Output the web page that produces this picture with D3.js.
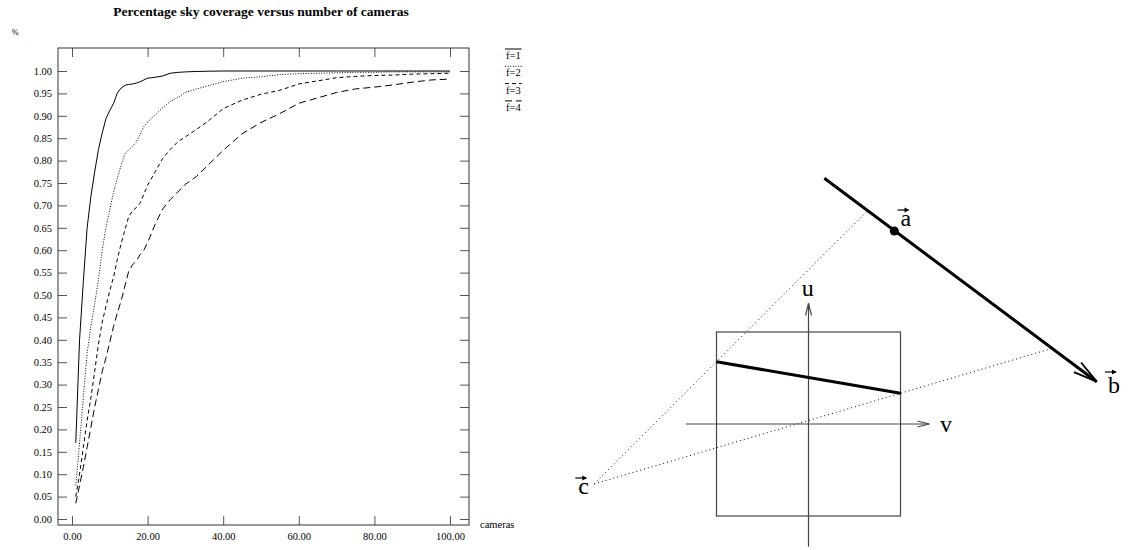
<!DOCTYPE html>
<html>
<head>
<meta charset="utf-8">
<script src="https://cdn.jsdelivr.net/npm/d3@7"></script>
<style>
  html, body { margin: 0; padding: 0; background: #fff; }
  svg { display: block; font-family: "Liberation Serif", "Times New Roman", serif; }
</style>
</head>
<body>
<svg id="fig" width="1130" height="550"></svg>
<script>
// ---- coverage data: fraction of sky covered for a given number of cameras ----
const cameras = [1, 2, 3, 4, 5, 6, 7, 8, 9, 10, 11, 12, 13, 14, 15, 16, 17, 18, 19, 20,
                 22, 24, 26, 28, 30, 33, 36, 40, 45, 50, 55, 60, 65, 70, 75, 80, 85, 90, 95, 100];
const coverF1 = [0.17, 0.40, 0.53, 0.65, 0.72, 0.775, 0.825, 0.862, 0.894, 0.912, 0.928, 0.951, 0.962, 0.968, 0.970, 0.971, 0.973, 0.976, 0.980, 0.984,
                 0.986, 0.989, 0.995, 0.997, 0.998, 0.999, 0.9995, 1.0, 1.0, 1.0, 1.0, 1.0, 1.0, 1.0, 1.0, 1.0, 1.0, 1.0, 1.0, 1.0];
const coverF2 = [0.075, 0.17, 0.27, 0.37, 0.43, 0.48, 0.535, 0.60, 0.652, 0.69, 0.73, 0.76, 0.79, 0.815, 0.824, 0.832, 0.841, 0.858, 0.876, 0.886,
                 0.902, 0.918, 0.932, 0.941, 0.952, 0.960, 0.967, 0.976, 0.984, 0.987, 0.992, 0.994, 0.995, 0.996, 0.997, 0.997, 0.998, 0.998, 0.998, 0.998];
const coverF3 = [0.05, 0.10, 0.16, 0.22, 0.27, 0.33, 0.39, 0.44, 0.475, 0.51, 0.54, 0.58, 0.615, 0.645, 0.675, 0.688, 0.695, 0.705, 0.725, 0.745,
                 0.775, 0.805, 0.825, 0.842, 0.853, 0.870, 0.888, 0.916, 0.935, 0.948, 0.957, 0.971, 0.978, 0.985, 0.988, 0.990, 0.991, 0.993, 0.994, 0.995];
const coverF4 = [0.035, 0.075, 0.115, 0.16, 0.205, 0.25, 0.29, 0.33, 0.36, 0.395, 0.43, 0.46, 0.487, 0.52, 0.553, 0.567, 0.576, 0.59, 0.60, 0.617,
                 0.658, 0.692, 0.713, 0.73, 0.747, 0.765, 0.79, 0.823, 0.86, 0.885, 0.905, 0.928, 0.94, 0.952, 0.96, 0.964, 0.969, 0.975, 0.98, 0.982];
const seriesNames = ["f=1", "f=2", "f=3", "f=4"];
const xTicks = [0, 20, 40, 60, 80, 100];
const yTicks = [0.00, 0.05, 0.10, 0.15, 0.20, 0.25, 0.30, 0.35, 0.40, 0.45, 0.50,
                0.55, 0.60, 0.65, 0.70, 0.75, 0.80, 0.85, 0.90, 0.95, 1.00];

// ---- projection sketch, in image-plane units (v to the right, u upwards) ----
const planeCorners = [[-1, -1], [1, 1]];
const centreC = [-2.33, -0.652];
const segmentAB = [[0.172, 2.671], [3.133, 0.46]];
const pointA = [0.933, 2.098];
const projectedAB = [[-1, 0.677], [1, 0.334]];
const uAxisRange = [-1.334, 1.312];
const vAxisRange = [-1.332, 1.313];
const sketchLabels = [
  { text: "a", pos: [1.0, 2.152], vec: true },
  { text: "b", pos: [3.255, 0.337], vec: true, tall: true },
  { text: "c", pos: [-2.502, -0.761], vec: true },
  { text: "u", pos: [-0.074, 1.391], vec: false },
  { text: "v", pos: [1.429, -0.084], vec: false }
];

const svg = d3.select("#fig");

// =================== coverage plot ===================
const frame = { left: 58, right: 469, top: 48, bottom: 525 };
const x = d3.scaleLinear().domain([0, 100]).range([72, 450]);
const y = d3.scaleLinear().domain([0, 1]).range([519, 71]);
const tickLen = 9;
const fmt = d3.format(".2f");

const plot = svg.append("g");

function styleAxis(g) {
  g.attr("font-family", null).attr("font-size", null);
  g.select(".domain").remove();
  g.selectAll(".tick line").attr("stroke", "#555").attr("stroke-width", 1);
  g.selectAll(".tick text").attr("fill", "#000").style("font-size", "10.5px");
}

plot.append("g")
  .attr("transform", `translate(0,${frame.bottom})`)
  .call(d3.axisBottom(x).tickValues(xTicks).tickFormat(fmt)
    .tickSizeInner(-tickLen).tickSizeOuter(0).tickPadding(8))
  .call(styleAxis);

plot.append("g")
  .attr("transform", `translate(0,${frame.top})`)
  .call(d3.axisTop(x).tickValues(xTicks).tickFormat(() => "")
    .tickSizeInner(-tickLen).tickSizeOuter(0))
  .call(styleAxis);

plot.append("g")
  .attr("transform", `translate(${frame.left},0)`)
  .call(d3.axisLeft(y).tickValues(yTicks).tickFormat(fmt)
    .tickSizeInner(-tickLen).tickSizeOuter(0).tickPadding(6))
  .call(styleAxis);

plot.append("g")
  .attr("transform", `translate(${frame.right},0)`)
  .call(d3.axisRight(y).tickValues(yTicks).tickFormat(() => "")
    .tickSizeInner(-tickLen).tickSizeOuter(0))
  .call(styleAxis);

plot.append("rect")
  .attr("x", frame.left).attr("y", frame.top)
  .attr("width", frame.right - frame.left).attr("height", frame.bottom - frame.top)
  .attr("fill", "none").attr("stroke", "#333").attr("stroke-width", 1);

const dashes = [null, "1,1.6", "4,3", "7,4"];
const series = [coverF1, coverF2, coverF3, coverF4];
const line = d3.line().x(d => x(d[0])).y(d => y(d[1]));

series.forEach((vals, i) => {
  plot.append("path")
    .datum(cameras.map((c, k) => [c, vals[k]]))
    .attr("d", line)
    .attr("fill", "none")
    .attr("stroke", "#000")
    .attr("stroke-width", 1)
    .attr("stroke-dasharray", dashes[i]);
});

// legend: line style drawn over each label
const legendX = frame.right + 37;
seriesNames.forEach((name, i) => {
  const by = 59 + i * 17.3;
  const t = plot.append("text")
    .attr("x", legendX).attr("y", by)
    .style("font-size", "10.5px").text(name);
  const w = t.node().getComputedTextLength();
  plot.append("line")
    .attr("x1", legendX - 1).attr("x2", legendX + w + 1)
    .attr("y1", by - 10).attr("y2", by - 10)
    .attr("stroke", "#000").attr("stroke-width", 1)
    .attr("stroke-dasharray", dashes[i]);
});

plot.append("text")
  .attr("x", (x(0) + x(100)) / 2).attr("y", 16)
  .attr("text-anchor", "middle")
  .style("font-size", "13.5px").style("font-weight", "bold")
  .text("Percentage sky coverage versus number of cameras");

plot.append("text").attr("x", 12).attr("y", 35)
  .style("font-size", "8px").text("%");

plot.append("text").attr("x", frame.right + 11).attr("y", 528)
  .style("font-size", "10.5px").text("cameras");

// =================== projection sketch ===================
const sx = d3.scaleLinear().domain([-1, 1]).range([716.5, 900.5]);
const sy = d3.scaleLinear().domain([-1, 1]).range([516, 332]);
const P = p => [sx(p[0]), sy(p[1])];
const sketch = svg.append("g");

// where the ray from c through q meets the line through segment ab
function hitAB(c, q) {
  const [a, b] = segmentAB;
  const d1 = [q[0] - c[0], q[1] - c[1]];
  const d2 = [b[0] - a[0], b[1] - a[1]];
  const den = d1[0] * d2[1] - d1[1] * d2[0];
  const t = ((a[0] - c[0]) * d2[1] - (a[1] - c[1]) * d2[0]) / den;
  return [c[0] + t * d1[0], c[1] + t * d1[1]];
}

projectedAB.forEach(q => {
  const hit = hitAB(centreC, q);
  const [x1, y1] = P(centreC), [x2, y2] = P(hit);
  sketch.append("line")
    .attr("x1", x1).attr("y1", y1).attr("x2", x2).attr("y2", y2)
    .attr("stroke", "#000").attr("stroke-width", 1)
    .attr("stroke-dasharray", "1,3");
});

// image plane
const [c0, c1] = [P(planeCorners[0]), P(planeCorners[1])];
sketch.append("rect")
  .attr("x", Math.min(c0[0], c1[0])).attr("y", Math.min(c0[1], c1[1]))
  .attr("width", Math.abs(c1[0] - c0[0])).attr("height", Math.abs(c1[1] - c0[1]))
  .attr("fill", "none").attr("stroke", "#444").attr("stroke-width", 1.2);

function openHead(g, tip, from, len, half, width, colour) {
  const ang = Math.atan2(tip[1] - from[1], tip[0] - from[0]);
  const bx = tip[0] - len * Math.cos(ang), by = tip[1] - len * Math.sin(ang);
  const nx = -Math.sin(ang) * half, ny = Math.cos(ang) * half;
  g.append("path")
    .attr("d", `M${bx + nx},${by + ny}L${tip[0]},${tip[1]}L${bx - nx},${by - ny}`)
    .attr("fill", "none").attr("stroke", colour).attr("stroke-width", width);
}

// u and v axes
const uBot = P([0, uAxisRange[0]]), uTop = P([0, uAxisRange[1]]);
sketch.append("line").attr("x1", uBot[0]).attr("y1", uBot[1]).attr("x2", uTop[0]).attr("y2", uTop[1])
  .attr("stroke", "#444").attr("stroke-width", 1.2);
openHead(sketch, uTop, uBot, 12, 3, 1.2, "#444");
const vL = P([vAxisRange[0], 0]), vR = P([vAxisRange[1], 0]);
sketch.append("line").attr("x1", vL[0]).attr("y1", vL[1]).attr("x2", vR[0]).attr("y2", vR[1])
  .attr("stroke", "#444").attr("stroke-width", 1.2);
openHead(sketch, vR, vL, 12, 3, 1.2, "#444");

// projected segment in the image plane
const [p1, p2] = projectedAB.map(P);
sketch.append("line").attr("x1", p1[0]).attr("y1", p1[1]).attr("x2", p2[0]).attr("y2", p2[1])
  .attr("stroke", "#000").attr("stroke-width", 3);

// segment ab with open arrow at b
const [s0, s1] = segmentAB.map(P);
sketch.append("line").attr("x1", s0[0]).attr("y1", s0[1]).attr("x2", s1[0]).attr("y2", s1[1])
  .attr("stroke", "#000").attr("stroke-width", 3);
openHead(sketch, s1, s0, 24, 6, 1.8, "#000");

const pa = P(pointA);
sketch.append("circle").attr("cx", pa[0]).attr("cy", pa[1]).attr("r", 4.5).attr("fill", "#000");

// labels, vector labels carry a small arrow above
sketchLabels.forEach(l => {
  const [lx, ly] = P(l.pos);
  sketch.append("text").attr("x", lx).attr("y", ly)
    .style("font-size", "24px").text(l.text);
  if (l.vec) {
    const ay = ly - (l.tall ? 21 : 16);
    sketch.append("line").attr("x1", lx - 3).attr("x2", lx + 7)
      .attr("y1", ay).attr("y2", ay).attr("stroke", "#000").attr("stroke-width", 1.2);
    sketch.append("path")
      .attr("d", `M${lx + 9},${ay}L${lx + 4},${ay - 2.5}L${lx + 4},${ay + 2.5}Z`)
      .attr("fill", "#000");
  }
});
</script>
</body>
</html>
